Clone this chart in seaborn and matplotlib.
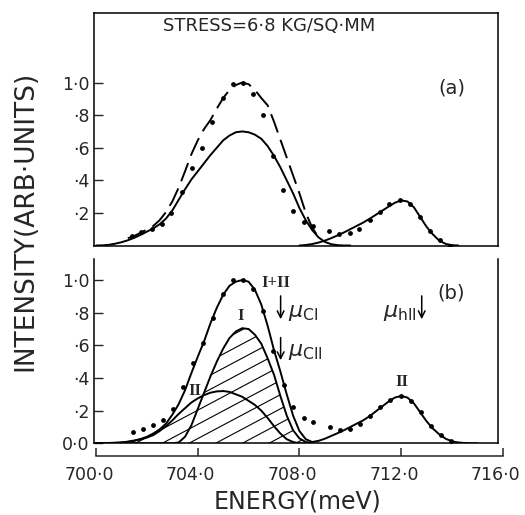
import numpy as np
import matplotlib.pyplot as plt
import seaborn as sns
from matplotlib.lines import Line2D
from matplotlib.transforms import ScaledTranslation

sns.set_style("ticks")
plt.rcParams["font.family"] = ["DejaVu Sans"]
plt.rcParams["mathtext.fontset"] = "dejavusans"

# ---- panel (a): measured points ----
pts_a_E = [701.40, 701.77, 702.19, 702.58, 702.96, 703.38, 703.79, 704.18, 704.58, 704.98,
           705.38, 705.77, 706.18, 706.56, 706.95, 707.34, 707.74, 708.16, 708.52, 709.18,
           709.57, 709.97, 710.36, 710.76, 711.15, 711.54, 711.96, 712.35, 712.75, 713.14,
           713.53, 713.93]
pts_a_I = [0.06, 0.083, 0.10, 0.134, 0.20, 0.33, 0.475, 0.596, 0.76, 0.907,
           0.99, 1.0, 0.93, 0.80, 0.55, 0.34, 0.21, 0.144, 0.12, 0.09,
           0.07, 0.075, 0.103, 0.157, 0.206, 0.255, 0.277, 0.255, 0.173, 0.089,
           0.034, 0.0]

# panel (a): fitted curves
E_a_main = np.arange(700.0, 710.01, 0.25)
I_a_main = [0.0, 0.001, 0.004, 0.011, 0.02, 0.032, 0.047, 0.065, 0.085, 0.105,
            0.13, 0.165, 0.215, 0.28, 0.345, 0.405, 0.455, 0.505, 0.555, 0.60,
            0.645, 0.675, 0.695, 0.70, 0.695, 0.68, 0.655, 0.61, 0.55, 0.48,
            0.40, 0.32, 0.23, 0.155, 0.095, 0.05, 0.022, 0.008, 0.002, 0.0, 0.0]
E_a_dash = np.arange(701.25, 708.76, 0.25)
I_a_dash = [0.045, 0.058, 0.078, 0.098, 0.12, 0.155, 0.205, 0.27, 0.355, 0.455,
            0.56, 0.645, 0.715, 0.77, 0.84, 0.905, 0.955, 0.985, 1.0, 0.99,
            0.955, 0.905, 0.86, 0.76, 0.65, 0.54, 0.43, 0.32, 0.20, 0.11, 0.05]
E_a_hole = np.arange(708.0, 714.26, 0.25)
I_a_hole = [0.0, 0.003, 0.009, 0.018, 0.03, 0.045, 0.062, 0.08, 0.10, 0.12,
            0.14, 0.163, 0.188, 0.213, 0.238, 0.262, 0.277, 0.27, 0.235, 0.175,
            0.115, 0.068, 0.03, 0.01, 0.002, 0.0]

# ---- panel (b): measured points ----
pts_b_E = [701.44, 701.84, 702.23, 702.62, 703.02, 703.41, 703.83, 704.20, 704.59, 704.98,
           705.38, 705.77, 706.16, 706.56, 706.97, 707.38, 707.76, 708.18, 708.55, 709.20,
           709.60, 709.99, 710.38, 710.78, 711.17, 711.57, 711.99, 712.38, 712.78, 713.17,
           713.57, 713.96]
pts_b_I = [0.07, 0.09, 0.115, 0.144, 0.21, 0.345, 0.49, 0.615, 0.77, 0.915,
           1.0, 1.0, 0.945, 0.81, 0.565, 0.355, 0.225, 0.156, 0.13, 0.10,
           0.08, 0.09, 0.12, 0.168, 0.22, 0.266, 0.29, 0.262, 0.19, 0.103,
           0.048, 0.017]

# panel (b): components I, II and their sum
E_b = np.arange(700.0, 708.51, 0.25)
I_sum = [0.0, 0.001, 0.002, 0.003, 0.005, 0.01, 0.017, 0.026, 0.04, 0.06,
         0.085, 0.12, 0.175, 0.24, 0.325, 0.43, 0.53, 0.625, 0.735, 0.83,
         0.91, 0.965, 0.99, 1.0, 0.99, 0.94, 0.85, 0.72, 0.57, 0.44,
         0.30, 0.17, 0.075, 0.025, 0.008]
I_one = [0.0, 0.0, 0.0, 0.0, 0.0, 0.0, 0.0, 0.0, 0.0, 0.0,
         0.0, 0.0, 0.0, 0.005, 0.04, 0.11, 0.21, 0.31, 0.41, 0.50,
         0.58, 0.645, 0.685, 0.705, 0.70, 0.665, 0.61, 0.52, 0.42, 0.29,
         0.17, 0.08, 0.03, 0.008, 0.0]
I_two = [0.0, 0.0, 0.002, 0.003, 0.005, 0.009, 0.015, 0.024, 0.035, 0.05,
         0.075, 0.105, 0.14, 0.18, 0.215, 0.25, 0.275, 0.295, 0.31, 0.318,
         0.32, 0.315, 0.30, 0.285, 0.26, 0.235, 0.20, 0.155, 0.105, 0.06,
         0.025, 0.008, 0.0, 0.0, 0.0]
E_b_hole = np.arange(708.5, 715.01, 0.25)
I_b_hole = [0.008, 0.015, 0.028, 0.045, 0.062, 0.08, 0.10, 0.12, 0.14, 0.165,
            0.195, 0.225, 0.255, 0.28, 0.29, 0.28, 0.245, 0.19, 0.135, 0.09,
            0.055, 0.028, 0.012, 0.005, 0.002, 0.0, 0.0]

energy_ticks = [700, 704, 708, 712, 716]
energy_labels = ["700·0", "704·0", "708·0", "712·0", "716·0"]
ya_ticks = [0.2, 0.4, 0.6, 0.8, 1.0]
ya_labels = ["·2", "·4", "·6", "·8", "1·0"]
yb_ticks = [0.0, 0.2, 0.4, 0.6, 0.8, 1.0]
yb_labels = ["0·0", "·2", "·4", "·6", "·8", "1·0"]

W, H = 525, 515
fig = plt.figure(figsize=(W / 100, H / 100), dpi=100)
ax_a = fig.add_axes([94 / W, (H - 245.5) / H, 404 / W, 232.2 / H])
ax_b = fig.add_axes([94 / W, (H - 443.3) / H, 404 / W, 184.8 / H])
ax_e = fig.add_axes([96 / W, (H - 456) / H, 406.7 / W, 0.0001])

lw = 1.4
# (a)
sns.lineplot(x=E_a_main, y=I_a_main, ax=ax_a, color="k", lw=lw, legend=False)
sns.lineplot(x=E_a_dash, y=I_a_dash, ax=ax_a, color="k", lw=lw,
             linestyle=(0, (10, 4)), legend=False)
sns.lineplot(x=E_a_hole, y=I_a_hole, ax=ax_a, color="k", lw=lw, legend=False)
sns.scatterplot(x=pts_a_E, y=pts_a_I, ax=ax_a, color="k", s=12, linewidth=0,
                legend=False, zorder=5)

# (b)
sns.lineplot(x=E_b, y=I_sum, ax=ax_b, color="k", lw=lw, legend=False)
sns.lineplot(x=E_b, y=I_one, ax=ax_b, color="k", lw=lw, legend=False)
sns.lineplot(x=E_b, y=I_two, ax=ax_b, color="k", lw=lw, legend=False)
sns.lineplot(x=E_b_hole, y=I_b_hole, ax=ax_b, color="k", lw=lw, legend=False)
sns.scatterplot(x=pts_b_E, y=pts_b_I, ax=ax_b, color="k", s=12, linewidth=0,
                legend=False, zorder=5)

# hatching under the I / II components
env = np.maximum(I_one, I_two)
poly = ax_b.fill_between(E_b, 0, env, facecolor="none", edgecolor="none")
clip = poly.get_paths()[0]
pw, ph = 404.0, 184.8
slope = np.tan(np.radians(28))
for x0 in np.arange(-420, 404, 26.7) + 7.6:
    ln = Line2D([x0 / pw, (x0 + ph / slope) / pw], [0, 1], transform=ax_b.transAxes,
                color="k", lw=0.8)
    ln.set_clip_path(clip, poly.get_transform())
    ax_b.add_line(ln)

for ax, ytop in ((ax_a, 1.425), (ax_b, 1.132)):
    ax.set_xlim(699.92, 715.81)
    ax.set_ylim(0, ytop)
    ax.set_xticks([])
    ax.set_xlabel("")
    ax.set_ylabel("")
    ax.tick_params(axis="y", direction="in", length=6.5, width=1, labelsize=12.5,
                   pad=3, right=False)
    for s in ax.spines.values():
        s.set_linewidth(1.1)
        s.set_color("k")

ax_a.set_yticks(ya_ticks, ya_labels)
ax_b.set_yticks(yb_ticks, yb_labels)
ax_b.spines["top"].set_visible(False)

# energy axis
ax_e.set_xlim(700, 716)
ax_e.set_xticks(energy_ticks, energy_labels)
ax_e.set_yticks([])
ax_e.patch.set_visible(False)
for k in ("top", "left", "right"):
    ax_e.spines[k].set_visible(False)
ax_e.spines["bottom"].set_linewidth(1.1)
ax_e.tick_params(axis="x", direction="in", length=6, width=1.1, labelsize=12.5, pad=7)
shift = ScaledTranslation(-7 / 100, 0, fig.dpi_scale_trans)
for lbl in ax_e.get_xticklabels():
    lbl.set_transform(lbl.get_transform() + shift)

# annotations
ax_a.text(706.8, 1.345, "STRESS=6·8 KG/SQ·MM", ha="center", va="center", fontsize=13)
ax_a.text(714.0, 0.966, "(a)", ha="center", va="center", fontsize=14)
ax_b.text(713.97, 0.92, "(b)", ha="center", va="center", fontsize=14)

serif = dict(family="Liberation Serif", weight="bold", fontsize=12, ha="center", va="center")
ax_b.text(707.08, 0.98, "I+II", **serif)
ax_b.text(705.70, 0.78, "I", **serif)
ax_b.text(703.90, 0.32, "II", **serif)
ax_b.text(712.03, 0.377, "II", **serif)

arrow = dict(arrowstyle="->", color="k", lw=1.1, mutation_scale=12)
ax_b.annotate("", xy=(707.26, 0.743), xytext=(707.26, 0.92), arrowprops=arrow)
ax_b.annotate("", xy=(707.26, 0.492), xytext=(707.26, 0.665), arrowprops=arrow)
ax_b.annotate("", xy=(712.81, 0.743), xytext=(712.81, 0.92), arrowprops=arrow)
ax_b.text(707.55, 0.80, r"$\mu_{\mathrm{CI}}$", ha="left", va="center", fontsize=16)
ax_b.text(707.55, 0.56, r"$\mu_{\mathrm{CII}}$", ha="left", va="center", fontsize=16)
ax_b.text(712.62, 0.80, r"$\mu_{\mathrm{hII}}$", ha="right", va="center", fontsize=16)

fig.text(25 / W, (H - 220.5) / H, "INTENSITY(ARB·UNITS)", rotation=90,
         ha="center", va="center", fontsize=19)
fig.text(297.5 / W, (H - 501.7) / H, "ENERGY(meV)", ha="center", va="center", fontsize=17)

fig.savefig("out.png", dpi=100)
